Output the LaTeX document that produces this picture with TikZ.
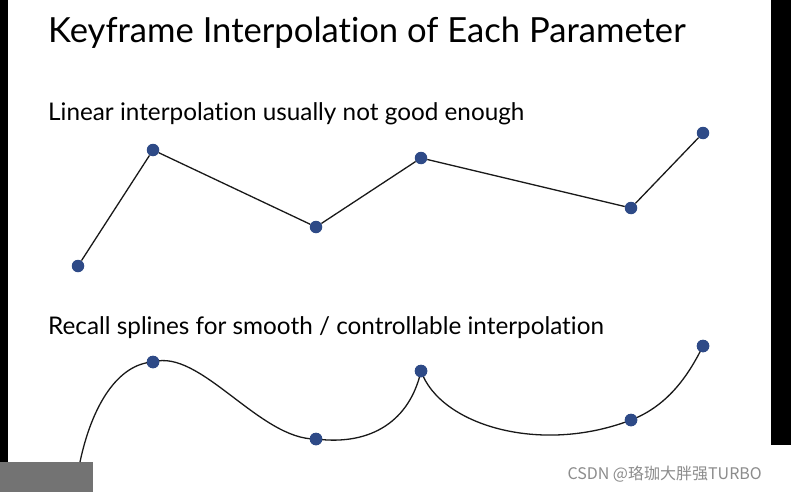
\documentclass[tikz,border=0pt]{standalone}
\usepackage{fontspec}
\setmainfont{Lato}[Ligatures={NoCommon}]
\newfontfamily\cjkfont{Noto Sans CJK SC}
\usetikzlibrary{calc}
\definecolor{keyblue}{RGB}{46,74,135}
\tikzset{
	key/.style={circle, fill=keyblue, inner sep=0pt, minimum size=12.5pt},
	seg/.style={line width=1.3pt, color=black!90},
	heading/.style={anchor=base west, inner sep=0pt, font=\fontsize{24.3}{28}\selectfont}
}

\begin{document}
\begin{tikzpicture}[x=1pt, y=-1pt]
			%%%%% START %%%%%
			
			\useasboundingbox (0, 0) rectangle (791, 492);
			\fill[white] (0, 0) rectangle (791, 492);
			
			\fill[black] (0, 0) rectangle (8, 462);
			\fill[black] (771, 0) rectangle (791, 445);
			\fill[black!55] (0, 462) rectangle (93, 492);
			
			\node[anchor=base west, inner sep=0pt, font=\fontsize{34.6}{40}\selectfont] (title) at (48, 43) {Keyframe Interpolation of Each Parameter};
			
			\node[heading] (linear) at (48, 121) {Linear interpolation usually not good enough};
			\node[heading] (spline) at (48, 334) {Recall splines for smooth / controllable interpolation};
			
			% linear
			\node[key] (la) at (78, 266) {};
			\node[key] (lb) at (153, 150) {};
			\node[key] (lc) at (316, 227) {};
			\node[key] (ld) at (421, 158) {};
			\node[key] (le) at (631, 208) {};
			\node[key] (lf) at (703, 133) {};
			\draw[seg] (la) -- (lb) -- (lc) -- (ld) -- (le) -- (lf);
			
			% spline
			\coordinate (s0) at (80, 462);
			\node[key] (sb) at (153, 362) {};
			\node[key] (sc) at (316, 439) {};
			\node[key] (sd) at (421, 371) {};
			\node[key] (se) at (631, 420) {};
			\node[key] (sf) at (703, 346) {};
			\draw[seg] (s0) .. controls (92, 405) and (118, 364) .. (sb.center)
				.. controls (200, 348) and (260, 440) .. (sc.center)
				.. controls (372, 446) and (410, 420) .. (sd.center)
				.. controls (440, 425) and (540, 455) .. (se.center)
				.. controls (670, 405) and (690, 372) .. (sf.center);
			\foreach \k in {sb, sc, sd, se, sf} {\node[key] at (\k) {};}
			
			\node[anchor=base east, inner sep=0pt, text=black!45, font=\cjkfont\fontsize{16}{18}\selectfont] (mark) at (762, 479) {CSDN @珞珈大胖强TURBO};
			
			%%%%% END %%%%%
\end{tikzpicture}
\end{document}
